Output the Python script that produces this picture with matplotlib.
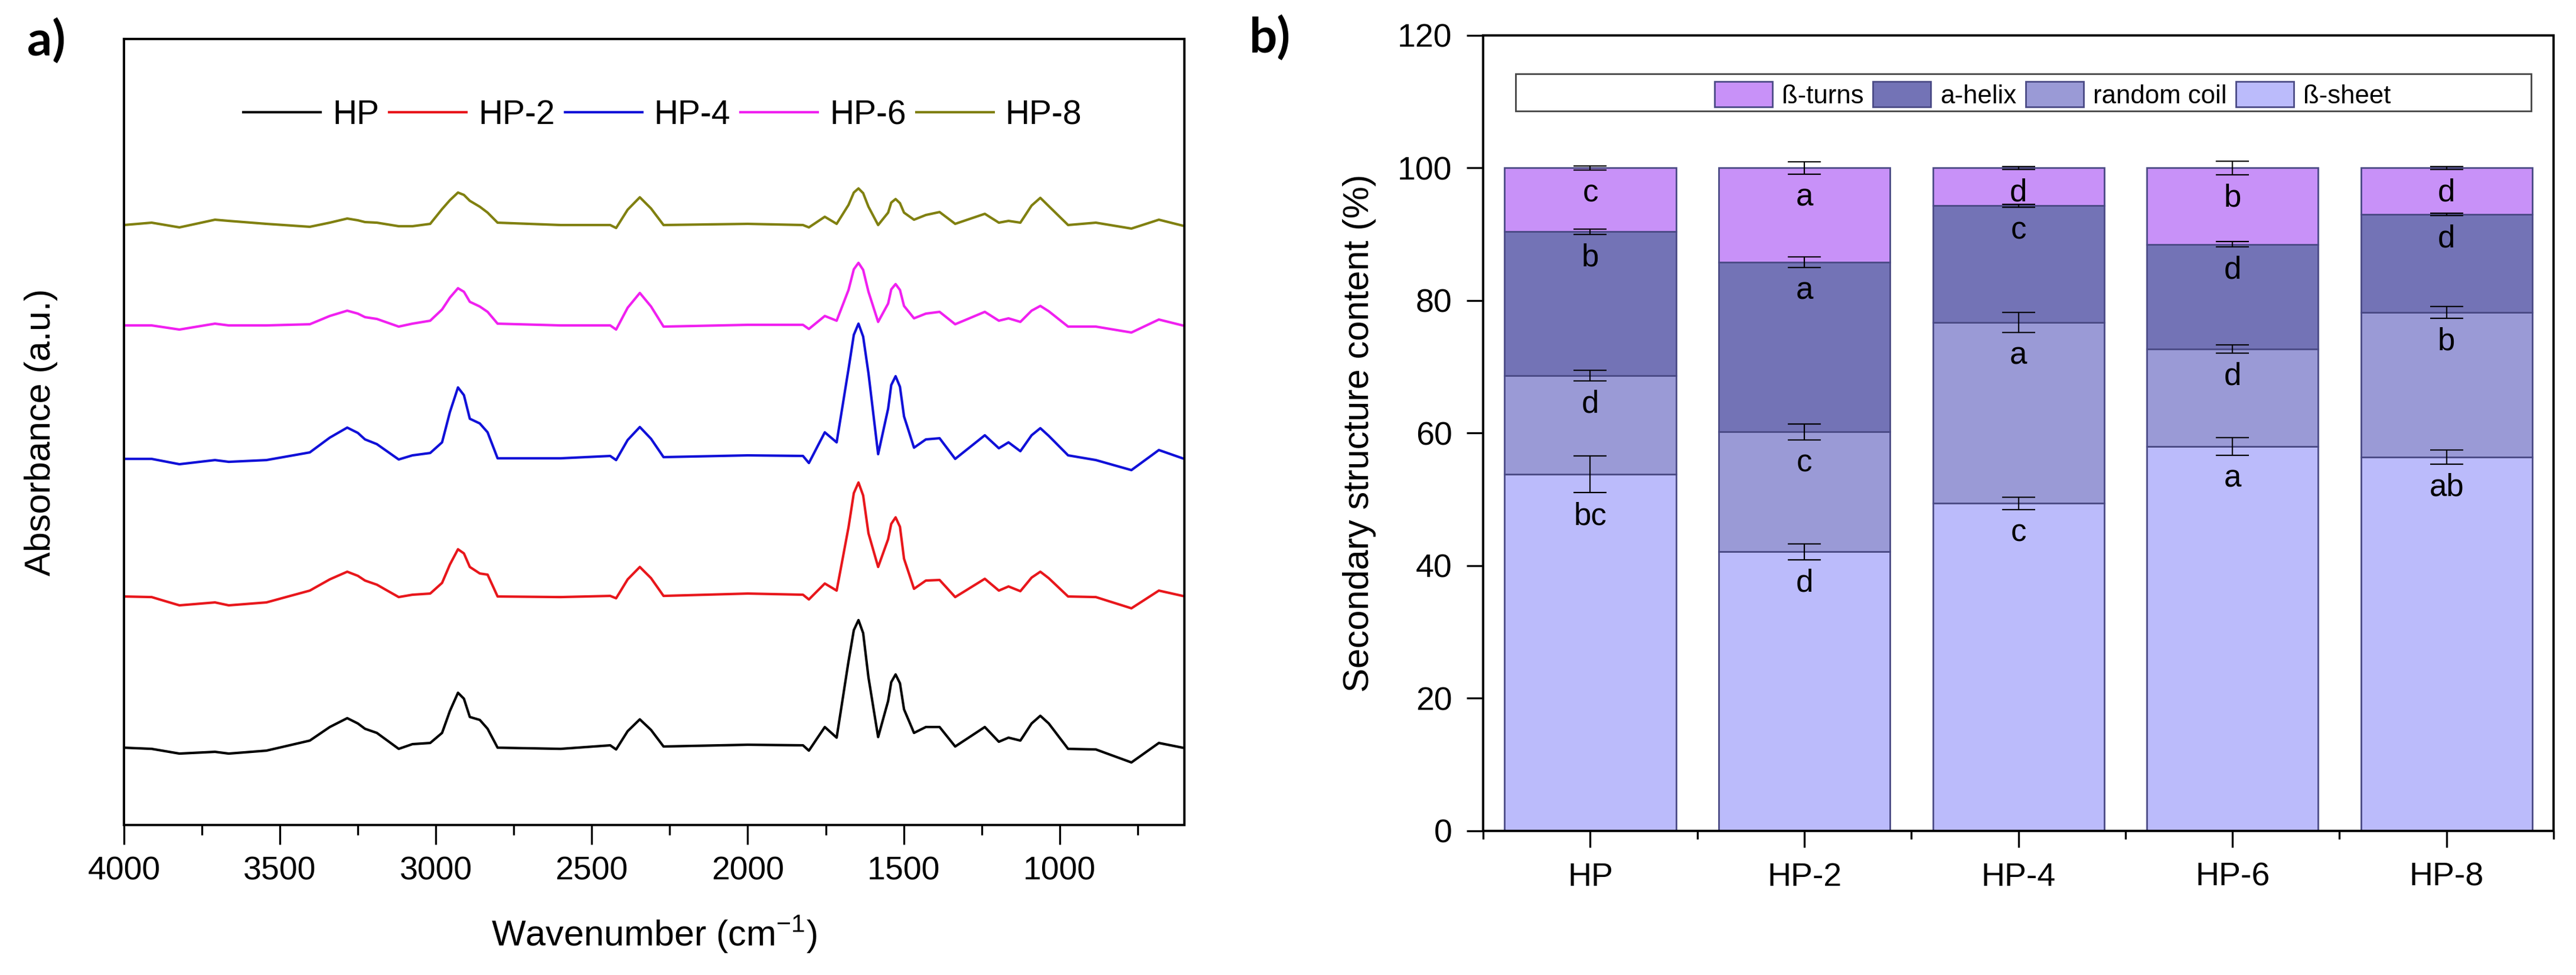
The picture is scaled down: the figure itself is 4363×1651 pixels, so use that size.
import matplotlib
matplotlib.use('Agg')
import matplotlib.pyplot as plt
from matplotlib.patches import Rectangle, Patch
from matplotlib.ticker import MultipleLocator, FixedLocator

plt.rcParams['font.family'] = ['Liberation Sans', 'DejaVu Sans']
plt.rcParams['mathtext.fontset'] = 'custom'
plt.rcParams['mathtext.rm'] = 'Liberation Sans'

# ---- panel a: FTIR spectra (stacked a.u.) ----
wavenumber = [4000, 3911, 3822, 3708, 3664, 3543, 3404, 3340, 3284, 3250,
              3227, 3189, 3119, 3075, 3018, 2980, 2955, 2929, 2910, 2891,
              2859, 2834, 2802, 2600, 2441, 2422, 2385, 2346, 2310, 2270,
              2000, 1823, 1804, 1753, 1715, 1677, 1660, 1645, 1630, 1613,
              1582, 1550, 1540, 1526, 1512, 1499, 1467, 1429, 1385, 1335,
              1240, 1195, 1164, 1126, 1090, 1062, 1035, 973, 884, 770,
              682, 606]

hp = [1.31, 1.29, 1.21, 1.24, 1.21, 1.26, 1.43, 1.66, 1.81, 1.72,
      1.63, 1.56, 1.29, 1.37, 1.39, 1.56, 1.93, 2.24, 2.14, 1.83,
      1.78, 1.63, 1.31, 1.29, 1.35, 1.28, 1.59, 1.79, 1.61, 1.33,
      1.36, 1.35, 1.26, 1.66, 1.48, 2.77, 3.30, 3.47, 3.25, 2.50,
      1.49, 2.10, 2.42, 2.55, 2.40, 1.96, 1.56, 1.66, 1.66, 1.33,
      1.66, 1.41, 1.48, 1.43, 1.72, 1.85, 1.72, 1.29, 1.28, 1.06,
      1.39, 1.31]
hp2 = [3.87, 3.86, 3.72, 3.77, 3.72, 3.77, 3.97, 4.16, 4.29, 4.22,
       4.14, 4.07, 3.86, 3.90, 3.92, 4.10, 4.41, 4.67, 4.60, 4.37,
       4.26, 4.24, 3.87, 3.86, 3.88, 3.84, 4.16, 4.37, 4.18, 3.88,
       3.92, 3.90, 3.82, 4.09, 3.97, 5.04, 5.62, 5.80, 5.58, 4.94,
       4.37, 4.84, 5.10, 5.21, 5.05, 4.51, 4.00, 4.14, 4.15, 3.86,
       4.17, 3.97, 4.04, 3.96, 4.19, 4.29, 4.18, 3.87, 3.86, 3.67,
       3.97, 3.88]
hp4 = [6.20, 6.20, 6.11, 6.18, 6.15, 6.18, 6.31, 6.56, 6.73, 6.64,
       6.53, 6.45, 6.19, 6.26, 6.30, 6.48, 6.99, 7.41, 7.28, 6.88,
       6.80, 6.65, 6.21, 6.21, 6.25, 6.18, 6.52, 6.74, 6.54, 6.23,
       6.26, 6.25, 6.13, 6.65, 6.48, 7.72, 8.30, 8.49, 8.27, 7.65,
       6.28, 7.05, 7.45, 7.60, 7.42, 6.92, 6.39, 6.53, 6.55, 6.20,
       6.60, 6.38, 6.48, 6.33, 6.60, 6.72, 6.59, 6.26, 6.18, 6.01,
       6.35, 6.21]
hp6 = [8.46, 8.46, 8.39, 8.49, 8.46, 8.46, 8.48, 8.62, 8.71, 8.66,
       8.60, 8.57, 8.44, 8.49, 8.54, 8.73, 8.93, 9.09, 9.03, 8.86,
       8.78, 8.69, 8.49, 8.46, 8.46, 8.39, 8.76, 9.01, 8.78, 8.44,
       8.47, 8.47, 8.40, 8.62, 8.54, 9.06, 9.41, 9.52, 9.40, 9.03,
       8.52, 8.83, 9.07, 9.16, 9.06, 8.79, 8.58, 8.66, 8.69, 8.48,
       8.69, 8.54, 8.58, 8.52, 8.71, 8.79, 8.70, 8.44, 8.44, 8.34,
       8.56, 8.46]
hp8 = [10.16, 10.20, 10.12, 10.25, 10.23, 10.18, 10.13, 10.20, 10.27, 10.24,
       10.21, 10.20, 10.14, 10.14, 10.18, 10.43, 10.58, 10.71, 10.67, 10.57,
       10.47, 10.37, 10.20, 10.16, 10.16, 10.11, 10.42, 10.63, 10.44, 10.16,
       10.18, 10.16, 10.12, 10.30, 10.18, 10.50, 10.71, 10.78, 10.70, 10.47,
       10.16, 10.37, 10.54, 10.60, 10.53, 10.37, 10.25, 10.33, 10.38, 10.18,
       10.35, 10.20, 10.23, 10.20, 10.49, 10.62, 10.48, 10.16, 10.20, 10.10,
       10.25, 10.15]

spectra_names = ['HP', 'HP-2', 'HP-4', 'HP-6', 'HP-8']
spectra_colors = ['#000000', '#e8161b', '#1010d8', '#f020f0', '#808010']

# ---- panel b: secondary structure (%) ----
samples = ['HP', 'HP-2', 'HP-4', 'HP-6', 'HP-8']
beta_sheet = [53.8, 42.1, 49.4, 58.0, 56.4]
random_coil = [14.9, 18.1, 27.3, 14.7, 21.8]
alpha_helix = [21.7, 25.6, 17.6, 15.8, 14.8]
beta_turns = [9.6, 14.2, 5.7, 11.5, 7.0]

sheet_err = [2.8, 1.2, 0.9, 1.3, 1.1]
coil_err = [0.8, 1.2, 1.5, 0.6, 0.9]
helix_err = [0.4, 0.8, 0.2, 0.4, 0.2]
turns_err = [0.3, 0.9, 0.2, 1.0, 0.2]

sheet_letters = ['bc', 'd', 'c', 'a', 'ab']
coil_letters = ['d', 'c', 'a', 'd', 'b']
helix_letters = ['b', 'a', 'c', 'd', 'd']
turns_letters = ['c', 'a', 'd', 'b', 'd']

fig = plt.figure(figsize=(43.63, 16.51), dpi=100)

# ================= panel a =================
ax1 = fig.add_axes([0.0481, 0.1538, 0.4117, 0.8062])
series = [hp, hp2, hp4, hp6, hp8]
for vals, name, col in zip(series, spectra_names, spectra_colors):
    ax1.plot(wavenumber, vals, color=col, lw=3.0, label=name,
             solid_joinstyle='round')

ax1.set_xlim(4000, 600)
ax1.set_ylim(0, 13.31)
ax1.xaxis.set_major_locator(MultipleLocator(500))
ax1.xaxis.set_minor_locator(MultipleLocator(250))
ax1.set_yticks([])
ax1.tick_params(axis='x', which='major', direction='out', length=24, width=2.4,
                labelsize=40, pad=14)
ax1.tick_params(axis='x', which='minor', direction='out', length=12, width=2.4)
for sp in ax1.spines.values():
    sp.set_linewidth(2.8)
ax1.set_xlabel('Wavenumber (cm$^{-1}$)', fontsize=44)
ax1.xaxis.set_label_coords(0.5, -0.113)
ax1.xaxis.label.set_va('top')
ax1.set_ylabel('Absorbance (a.u.)', fontsize=44)
ax1.yaxis.set_label_coords(-0.062, 0.5)
ax1.legend(ncol=5, loc='center', bbox_to_anchor=(0.508, 0.903), frameon=False,
           fontsize=41, handlelength=2.3, handletextpad=0.35, columnspacing=0.3)

# ================= panel b =================
ax2 = fig.add_axes([0.5758, 0.1478, 0.4155, 0.8159])
x = list(range(len(samples)))
segments = [
    (beta_sheet, sheet_err, sheet_letters, '#bbbbfb', 'ß-sheet'),
    (random_coil, coil_err, coil_letters, '#9a9ad6', 'random coil'),
    (alpha_helix, helix_err, helix_letters, '#7373b6', 'a-helix'),
    (beta_turns, turns_err, turns_letters, '#c891f8', 'ß-turns'),
]
bottom = [0.0] * len(samples)
handles = []
for vals, errs, letters, col, name in segments:
    ax2.bar(x, vals, width=0.8, bottom=bottom, color=col, edgecolor='#4a4a85',
            linewidth=2, zorder=2)
    tops = [b + v for b, v in zip(bottom, vals)]
    ax2.errorbar(x, tops, yerr=errs, fmt='none', ecolor='black', elinewidth=1.6,
                 capsize=20, capthick=1.6, zorder=3)
    for xi, t, e, lab in zip(x, tops, errs, letters):
        ax2.text(xi, t - e - 1.3, lab, ha='center', va='top', fontsize=38, zorder=4)
    handles.append(Patch(facecolor=col, edgecolor='#4a4a85', linewidth=2, label=name))
    bottom = tops

ax2.set_xlim(-0.5, 4.5)
ax2.set_ylim(0, 120)
ax2.set_xticks(x)
ax2.set_xticklabels(samples)
ax2.xaxis.set_minor_locator(FixedLocator([-0.5, 0.5, 1.5, 2.5, 3.5, 4.5]))
ax2.set_yticks(range(0, 121, 20))
ax2.tick_params(axis='both', which='major', direction='out', length=20, width=2.4,
                labelsize=40)
ax2.tick_params(axis='x', which='major', pad=18)
ax2.tick_params(axis='y', which='major', pad=18)
ax2.tick_params(axis='x', which='minor', direction='out', length=10, width=2.4)
for sp in ax2.spines.values():
    sp.set_linewidth(2.8)
ax2.set_ylabel('Secondary structure content (%)', fontsize=44, labelpad=26)

ax2.add_patch(Rectangle((0.0303, 0.905), 0.9487, 0.0468, transform=ax2.transAxes,
                        facecolor='white', edgecolor='#444444', linewidth=2, zorder=5))
leg = ax2.legend(handles=handles[::-1], ncol=4, loc='center',
                 bbox_to_anchor=(0.532, 0.925), frameon=False, fontsize=31.5,
                 handlelength=2.24, handleheight=1.12, handletextpad=0.36,
                 columnspacing=0.36, borderpad=0)
leg.set_zorder(6)

# panel labels
fig.text(0.0105, 0.982, 'a)', fontsize=60, fontweight='bold', family='Lato',
         ha='left', va='top')
fig.text(0.485, 0.985, 'b)', fontsize=60, fontweight='bold', family='Lato',
         ha='left', va='top')

fig.savefig('out.png', dpi=100)
